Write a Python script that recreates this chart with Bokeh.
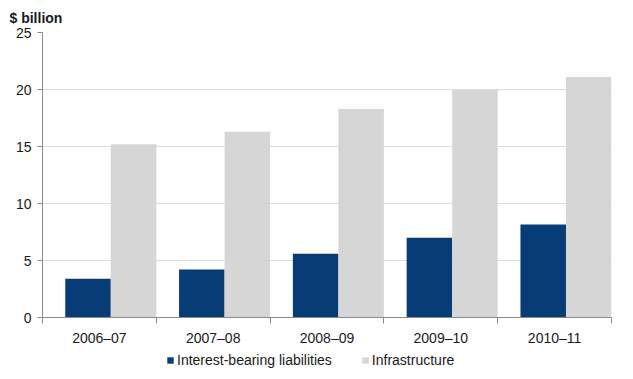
import numpy as np
from bokeh.plotting import figure
from bokeh.layouts import column
from bokeh.models import ColumnDataSource, FixedTicker, Legend, LegendItem, Range1d, Title
from bokeh.embed import file_html
from bokeh.resources import INLINE

years = ["2006–07", "2007–08", "2008–09", "2009–10", "2010–11"]
liabilities = [3.4, 4.2, 5.6, 7.0, 8.15]
infrastructure = [15.2, 16.3, 18.3, 20.0, 21.1]
y_ticks = [0, 5, 10, 15, 20, 25]
series_names = ["Interest-bearing liabilities", "Infrastructure"]

BLUE = "#073c76"
GREY = "#d6d6d6"
FONT = "Liberation Sans"

idx = np.arange(len(years))
src = ColumnDataSource(dict(
    xb=idx + 0.4, xg=idx + 0.8,
    lia=liabilities, inf=infrastructure,
))

p = figure(frame_width=569, frame_height=285, output_backend="svg", toolbar_location=None,
           x_range=Range1d(0, len(years)), y_range=Range1d(0, 25),
           min_border_left=42, min_border_right=22, min_border_top=32, min_border_bottom=28)
p.add_layout(Title(text="$ billion", align="left", offset=-33, text_font=FONT,
                   text_font_size="14px", text_font_style="bold", text_color="#1a1a1a",
                   standoff=13), "above")

p.vbar(x="xb", top="lia", width=0.4, source=src, fill_color=BLUE, line_color=None)
p.vbar(x="xg", top="inf", width=0.4, source=src, fill_color=GREY, line_color=None)

p.outline_line_color = None
p.xgrid.grid_line_color = None
p.ygrid.grid_line_color = "#dcdcdc"
p.ygrid.grid_line_width = 1
p.background_fill_color = "white"

ya = p.yaxis[0]
ya.ticker = FixedTicker(ticks=y_ticks)
ya.axis_line_color = "#8a8a8a"
ya.major_tick_line_color = "#8a8a8a"
ya.major_tick_out = 5
ya.major_tick_in = 0
ya.minor_tick_line_color = None
ya.major_label_text_font = FONT
ya.major_label_text_font_size = "14px"
ya.major_label_text_color = "#1a1a1a"
ya.major_label_standoff = 6

xa = p.xaxis[0]
xa.ticker = FixedTicker(ticks=[i + 0.5 for i in range(len(years))],
                        minor_ticks=list(range(len(years) + 1)))
xa.major_label_overrides = {i + 0.5: y for i, y in enumerate(years)}
xa.axis_line_color = "#8a8a8a"
xa.major_tick_line_color = None
xa.major_tick_out = 0
xa.minor_tick_line_color = "#8a8a8a"
xa.minor_tick_out = 6
xa.minor_tick_in = 0
xa.major_label_text_font = FONT
xa.major_label_text_font_size = "14px"
xa.major_label_text_color = "#1a1a1a"
xa.major_label_standoff = 6

# legend strip below the chart
p2 = figure(width=633, height=34, output_backend="svg", toolbar_location=None,
            x_range=Range1d(0, 1), y_range=Range1d(0, 1),
            x_axis_location=None, y_axis_location=None,
            min_border_left=0, min_border_right=0, min_border_top=0, min_border_bottom=0)
p2.grid.grid_line_color = None
p2.outline_line_color = None
l1 = p2.vbar(x="xb", top="lia", width=0.4, source=src, fill_color=BLUE, line_color=None, visible=False)
l2 = p2.vbar(x="xg", top="inf", width=0.4, source=src, fill_color=GREY, line_color=None, visible=False)

legend = Legend(items=[LegendItem(label=series_names[0], renderers=[l1]),
                       LegendItem(label=series_names[1], renderers=[l2])],
                orientation="horizontal", location=(124, 14),
                label_text_font=FONT, label_text_font_size="14px", label_text_color="#1a1a1a",
                glyph_width=8, glyph_height=8, label_standoff=3, spacing=29, label_height=16,
                padding=0, margin=0, border_line_color=None, background_fill_alpha=0)
p2.add_layout(legend, "center")

layout = column(p, p2, spacing=0)
open("out.html", "w").write(file_html(layout, INLINE))
